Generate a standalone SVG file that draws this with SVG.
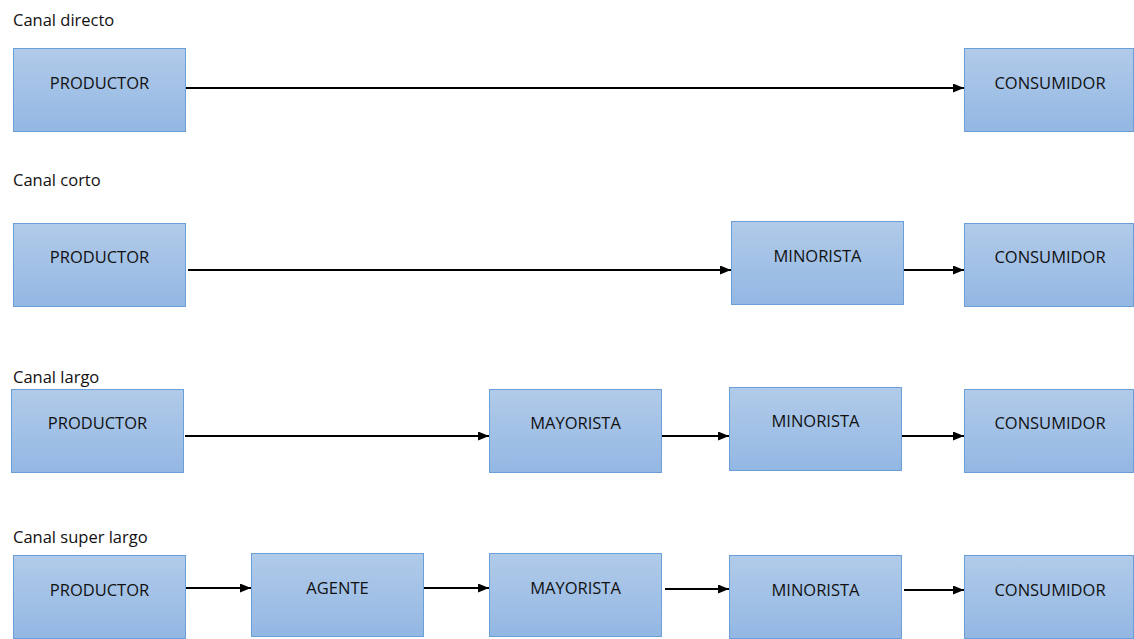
<svg xmlns="http://www.w3.org/2000/svg" width="1134" height="639" viewBox="0 0 1134 639">
<defs>
<linearGradient id="g" x1="0" y1="0" x2="0" y2="1">
<stop offset="0" stop-color="#b1cbe9"/>
<stop offset="1" stop-color="#93b7e3"/>
</linearGradient>
<marker id="a" markerWidth="11" markerHeight="9" refX="11" refY="4.5" orient="auto" markerUnits="userSpaceOnUse">
<path d="M0,0 L11,4.5 L0,9 z" fill="#000"/>
</marker>
<style>
.b{fill:url(#g);stroke:#6a9fd8;stroke-width:1}
.t{font-family:"Open Sans","Liberation Sans",sans-serif;font-size:16.5px;fill:#111;text-anchor:middle}
.h{font-family:"Open Sans","Liberation Sans",sans-serif;font-size:16.5px;fill:#111}
.c{stroke:#000;stroke-width:2;fill:none;marker-end:url(#a)}
</style>
</defs>
<rect width="1134" height="639" fill="#fff"/>
<g id="labels">
<text class="h" x="13" y="26">Canal directo</text>
<text class="h" x="13" y="186">Canal corto</text>
<text class="h" x="13" y="383">Canal largo</text>
<text class="h" x="13" y="543">Canal super largo</text>
</g>
<g id="r1-productor"><rect class="b" x="13.5" y="48.5" width="172" height="83"/><text class="t" x="99.5" y="89">PRODUCTOR</text></g>
<g id="r1-consumidor"><rect class="b" x="964.5" y="48.5" width="169" height="83"/><text class="t" x="1050" y="89">CONSUMIDOR</text></g>
<g id="r2-productor"><rect class="b" x="13.5" y="223.5" width="172" height="83"/><text class="t" x="99.5" y="263">PRODUCTOR</text></g>
<g id="r2-minorista"><rect class="b" x="731.5" y="221.5" width="172" height="83"/><text class="t" x="817.5" y="262">MINORISTA</text></g>
<g id="r2-consumidor"><rect class="b" x="964.5" y="223.5" width="169" height="83"/><text class="t" x="1050" y="263">CONSUMIDOR</text></g>
<g id="r3-productor"><rect class="b" x="11.5" y="389.5" width="172" height="83"/><text class="t" x="97.5" y="429">PRODUCTOR</text></g>
<g id="r3-mayorista"><rect class="b" x="489.5" y="389.5" width="172" height="83"/><text class="t" x="575.5" y="429">MAYORISTA</text></g>
<g id="r3-minorista"><rect class="b" x="729.5" y="387.5" width="172" height="83"/><text class="t" x="815.5" y="427">MINORISTA</text></g>
<g id="r3-consumidor"><rect class="b" x="964.5" y="389.5" width="169" height="83"/><text class="t" x="1050" y="429">CONSUMIDOR</text></g>
<g id="r4-productor"><rect class="b" x="13.5" y="555.5" width="172" height="83"/><text class="t" x="99.5" y="596">PRODUCTOR</text></g>
<g id="r4-agente"><rect class="b" x="251.5" y="553.5" width="172" height="83"/><text class="t" x="337.5" y="594">AGENTE</text></g>
<g id="r4-mayorista"><rect class="b" x="489.5" y="553.5" width="172" height="83"/><text class="t" x="575.5" y="594">MAYORISTA</text></g>
<g id="r4-minorista"><rect class="b" x="729.5" y="555.5" width="172" height="83"/><text class="t" x="815.5" y="596">MINORISTA</text></g>
<g id="r4-consumidor"><rect class="b" x="964.5" y="555.5" width="169" height="83"/><text class="t" x="1050" y="596">CONSUMIDOR</text></g>
<g id="connectors">
<line class="c" x1="186" y1="88" x2="964" y2="88"/>
<line class="c" x1="188" y1="270" x2="731" y2="270"/>
<line class="c" x1="904" y1="270" x2="964" y2="270"/>
<line class="c" x1="185" y1="436" x2="489" y2="436"/>
<line class="c" x1="662" y1="436" x2="729" y2="436"/>
<line class="c" x1="902" y1="436" x2="964" y2="436"/>
<line class="c" x1="186" y1="588" x2="251" y2="588"/>
<line class="c" x1="424" y1="588" x2="489" y2="588"/>
<line class="c" x1="665" y1="589" x2="729" y2="589"/>
<line class="c" x1="904" y1="590" x2="964" y2="590"/>
</g>
</svg>
